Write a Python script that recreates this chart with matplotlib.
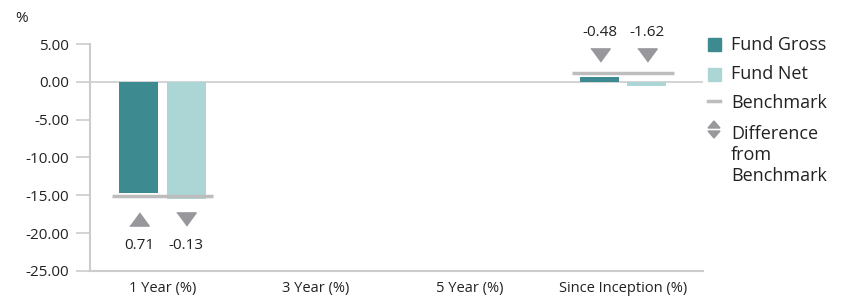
import matplotlib
matplotlib.use("Agg")
import matplotlib.pyplot as plt
import numpy as np
from matplotlib.transforms import offset_copy
from matplotlib.patches import Rectangle, Polygon

plt.rcParams['font.family'] = ['Open Sans', 'DejaVu Sans']

categories = ["1 Year (%)", "3 Year (%)", "5 Year (%)", "Since Inception (%)"]
fund_gross = [-14.65, None, None, 0.65]
fund_net = [-15.45, None, None, -0.49]
benchmark = [-15.1, None, None, 1.2]
diff_gross = [0.71, None, None, -0.48]
diff_net = [-0.13, None, None, -1.62]
yticks = [5, 0, -5, -10, -15, -20, -25]

c_gross = "#3d8a91"
c_net = "#acd6d6"
c_bench = "#bdbdbd"
c_tri = "#98989c"
c_axis = "#cccccc"
c_text = "#222222"

fig = plt.figure(figsize=(8.46, 2.96), dpi=100)
ax = fig.add_axes([90/846, 1-271/296, (703-90)/846, (271-44)/296])

x = np.arange(len(categories))
bw = 0.255
off = 0.154
tri = [(-1, -0.68), (1, -0.68), (0, 0.68)]
tri_d = [(-1, 0.68), (1, 0.68), (0, -0.68)]

ax.axhline(0, color=c_axis, lw=1.2, zorder=1)

for i in range(len(categories)):
    if fund_gross[i] is None:
        continue
    ax.bar(x[i]-off, fund_gross[i], bw, color=c_gross, zorder=2)
    ax.bar(x[i]+off, fund_net[i], bw, color=c_net, zorder=2)
    ax.plot([x[i]-0.33, x[i]+0.33], [benchmark[i]]*2, color=c_bench, lw=2.5,
            solid_capstyle='butt', zorder=3)
    vals = [fund_gross[i], fund_net[i], benchmark[i]]
    for dx, d in [(-off, diff_gross[i]), (off, diff_net[i])]:
        if fund_gross[i] < 0:
            yref = min(vals)
            o1, o2 = -14.5, -33.5
        else:
            yref = max(vals)
            o1, o2 = 13, 29
        m = tri if d > 0 else tri_d
        t1 = offset_copy(ax.transData, fig=fig, x=0, y=o1, units='points')
        ax.plot([x[i]+dx], [yref], marker=m, markersize=14, color=c_tri,
                linestyle='none', transform=t1, clip_on=False, zorder=4)
        t2 = offset_copy(ax.transData, fig=fig, x=0, y=o2, units='points')
        ax.text(x[i]+dx, yref, f"{d:.2f}", transform=t2, ha='center', va='center',
                fontsize=11, color=c_text, clip_on=False)

ax.set_xlim(-0.472, 3.52)
ax.set_ylim(-25, 5)
ax.set_yticks(yticks)
ax.set_yticklabels([f"{v:.2f}" for v in yticks], fontsize=11, color=c_text)
ax.set_xticks(x)
ax.set_xticklabels(categories, fontsize=10.5, color=c_text)
ax.tick_params(axis='y', length=10, color=c_axis, width=1.2, pad=5)
ax.tick_params(axis='x', length=0, pad=7)
for s in ['top', 'right']:
    ax.spines[s].set_visible(False)
for s in ['left', 'bottom']:
    ax.spines[s].set_color(c_axis)
    ax.spines[s].set_linewidth(1.5)

fig.text(15/846, 1-18/296, "%", fontsize=11, color=c_text, va='center', ha='left')

# legend
def fy(py):
    return 1 - py/296
def fx(px):
    return px/846

fs_leg = 13
fig.patches.append(Rectangle((fx(708), fy(51)), 13/846, 13/296, transform=fig.transFigure,
                             color=c_gross, figure=fig))
fig.text(fx(731), fy(45), "Fund Gross", fontsize=fs_leg, color=c_text, va='center')
fig.patches.append(Rectangle((fx(708), fy(81)), 13/846, 13/296, transform=fig.transFigure,
                             color=c_net, figure=fig))
fig.text(fx(731), fy(74), "Fund Net", fontsize=fs_leg, color=c_text, va='center')
fig.lines.append(plt.Line2D([fx(708), fx(720)], [fy(101), fy(101)], transform=fig.transFigure,
                            color=c_bench, lw=2.5, figure=fig))
fig.text(fx(731), fy(103), "Benchmark", fontsize=fs_leg, color=c_text, va='center')
fig.patches.append(Polygon([(fx(708), fy(128)), (fx(720), fy(128)), (fx(714), fy(121))],
                           closed=True, transform=fig.transFigure, color=c_tri, figure=fig))
fig.patches.append(Polygon([(fx(708), fy(131)), (fx(720), fy(131)), (fx(714), fy(138))],
                           closed=True, transform=fig.transFigure, color=c_tri, figure=fig))
fig.text(fx(731), fy(125), "Difference\nfrom\nBenchmark", fontsize=fs_leg, color=c_text,
         va='top', linespacing=1.2)

fig.savefig("out.png", dpi=100)
